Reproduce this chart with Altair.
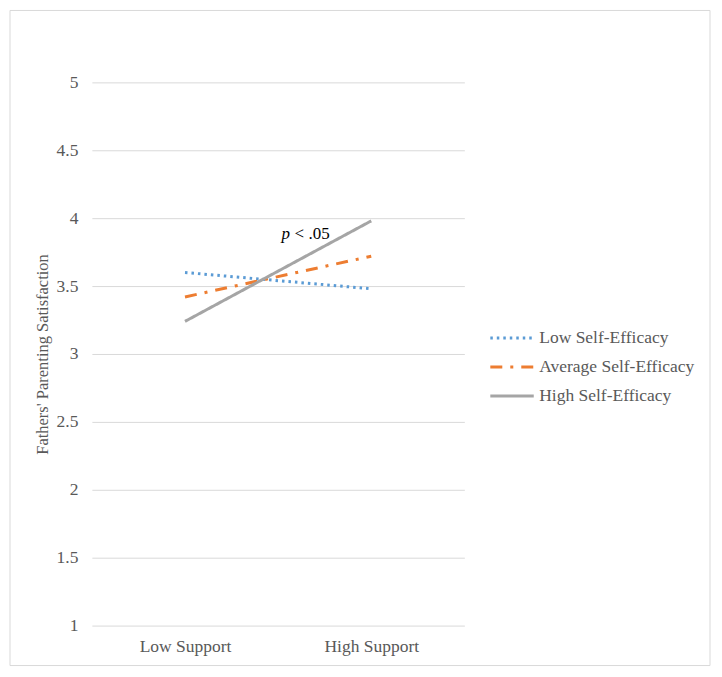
import altair as alt
import pandas as pd

categories = ["Low Support", "High Support"]
series = ["Low Self-Efficacy", "Average Self-Efficacy", "High Self-Efficacy"]
low_se = [3.60, 3.48]
avg_se = [3.42, 3.72]
high_se = [3.24, 3.98]
colors = ["#5B9BD5", "#ED7D31", "#A5A5A5"]
dashes = [[2.5, 4], [12, 8, 3, 8], [1, 0]]
y_ticks = [1, 1.5, 2, 2.5, 3, 3.5, 4, 4.5, 5]

rows = []
for name, vals in zip(series, [low_se, avg_se, high_se]):
    for c, v in zip(categories, vals):
        rows.append({"support": c, "value": v, "series": name})
df = pd.DataFrame(rows)

FONT = "Liberation Serif"
GREY = "#595959"

lines = alt.Chart(df).mark_line(strokeWidth=3).encode(
    x=alt.X("support:N", sort=categories, scale=alt.Scale(type="point", padding=0.5),
            axis=alt.Axis(title=None, labelAngle=0, ticks=False, domain=False, grid=False,
                          labelFont=FONT, labelFontSize=17.5, labelColor=GREY, labelPadding=12)),
    y=alt.Y("value:Q", scale=alt.Scale(domain=[1, 5], nice=False, zero=False),
            axis=alt.Axis(title="Fathers' Parenting Satisfaction", values=y_ticks, ticks=False,
                          format="~g",
                          domain=False, gridColor="#d9d9d9", gridWidth=1,
                          labelFont=FONT, labelFontSize=17.5, labelColor=GREY, labelPadding=14,
                          titleFont=FONT, titleFontSize=16.5, titleFontWeight="normal",
                          titleColor=GREY, titlePadding=6)),
    color=alt.Color("series:N", scale=alt.Scale(domain=series, range=colors),
                    legend=alt.Legend(title=None, orient="none", legendX=412, legendY=240,
                                      symbolType="M-2,0H1", symbolSize=841, symbolStrokeWidth=3,
                                      symbolFillColor="transparent",
                                      labelFont=FONT, labelFontSize=17.5, labelColor=GREY,
                                      labelOffset=4, rowPadding=4)),
    strokeDash=alt.StrokeDash("series:N", scale=alt.Scale(domain=series, range=dashes), legend=None),
)

ann = pd.DataFrame({"y": [3.88]})
p_text = alt.Chart(ann).mark_text(font=FONT, fontSize=17, fontStyle="italic", align="left",
                                  baseline="middle", color="#000000").encode(
    x=alt.value(190), y=alt.Y("y:Q"), text=alt.value("p"))
rest_text = alt.Chart(ann).mark_text(font=FONT, fontSize=17, align="left",
                                     baseline="middle", color="#000000").encode(
    x=alt.value(203), y=alt.Y("y:Q"), text=alt.value("< .05"))

frame = alt.Chart(pd.DataFrame({"a": [0]})).mark_rect(fill=None, stroke="#d9d9d9", strokeWidth=1,
                                                     clip=False).encode(
    x=alt.value(-82), x2=alt.value(619), y=alt.value(-72), y2=alt.value(584))

chart = alt.layer(frame, lines, p_text, rest_text).properties(
    width=373, height=544,
    autosize=alt.AutoSizeParams(type="none"),
    padding={"left": 84, "top": 74, "right": 250, "bottom": 45},
).configure(background="white").configure_view(stroke=None)

chart.save("out.html", embed_options={"renderer": "svg", "actions": False})
